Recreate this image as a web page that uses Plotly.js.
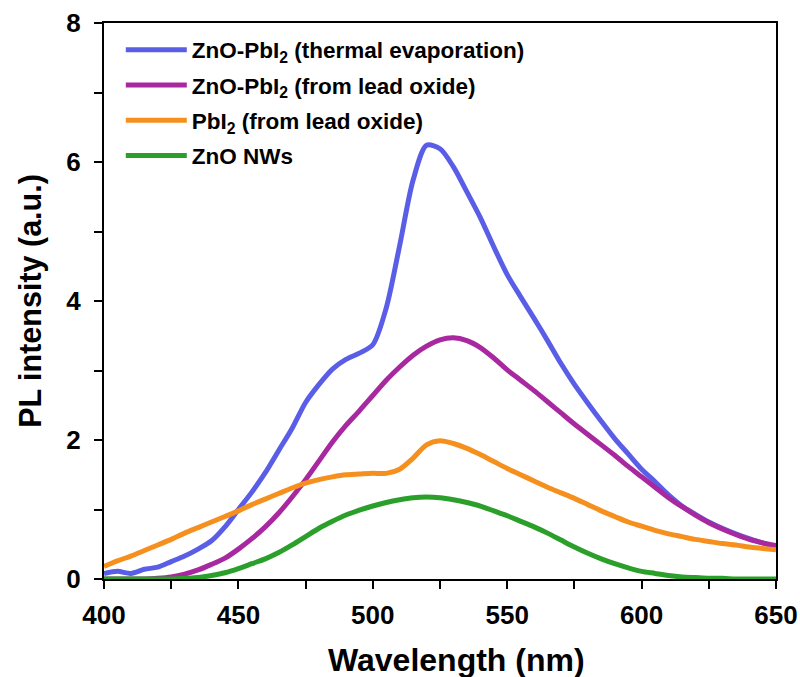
<!DOCTYPE html>
<html>
<head>
<meta charset="utf-8">
<script src="https://cdn.plot.ly/plotly-3.0.1.min.js"></script>
<style>
  html, body { margin: 0; padding: 0; background: #fff; }
  #chart { width: 800px; height: 677px; }
</style>
</head>
<body>
<div id="chart"></div>
<script>
// Wavelength grid (nm)
const wavelength = [400,405,410,415,420,425,430,435,440,445,450,455,460,465,470,475,480,485,490,495,
  500,505,510,515,520,525,530,535,540,545,550,555,560,565,570,575,580,585,590,595,
  600,605,610,615,620,625,630,635,640,645,650];

// ZnO-PbI2 (thermal evaporation)
const thermalEvap = [0.08,0.11,0.08,0.14,0.17,0.25,0.33,0.43,0.55,0.75,1.00,1.25,1.53,1.85,2.17,2.54,2.80,3.02,3.16,3.25,
  3.37,3.90,4.80,5.74,6.24,6.19,5.93,5.57,5.20,4.78,4.38,4.06,3.75,3.43,3.10,2.80,2.53,2.27,2.02,1.80,
  1.58,1.40,1.21,1.05,0.93,0.82,0.73,0.65,0.58,0.52,0.46];

// ZnO-PbI2 (from lead oxide)
const fromLeadOxide = [0.00,0.00,0.00,0.00,0.01,0.03,0.07,0.13,0.21,0.30,0.43,0.58,0.75,0.95,1.18,1.43,1.70,1.97,2.21,2.42,
  2.64,2.86,3.05,3.22,3.35,3.44,3.47,3.43,3.33,3.18,3.01,2.86,2.71,2.55,2.39,2.23,2.08,1.93,1.78,1.62,
  1.47,1.32,1.17,1.04,0.92,0.81,0.72,0.64,0.57,0.52,0.48];

// PbI2 (from lead oxide)
const pbi2 = [0.18,0.26,0.33,0.41,0.49,0.57,0.66,0.74,0.82,0.90,0.98,1.07,1.15,1.23,1.31,1.38,1.43,1.47,1.50,1.51,
  1.52,1.52,1.58,1.74,1.93,1.99,1.95,1.88,1.79,1.69,1.59,1.50,1.41,1.32,1.24,1.16,1.07,0.98,0.90,0.82,
  0.76,0.70,0.65,0.61,0.57,0.54,0.51,0.49,0.46,0.44,0.42];

// ZnO NWs
const znoNWs = [0.00,0.00,0.00,0.00,0.00,0.00,0.01,0.02,0.05,0.09,0.15,0.22,0.29,0.38,0.49,0.61,0.73,0.83,0.92,0.99,
  1.05,1.10,1.14,1.17,1.18,1.17,1.14,1.10,1.05,0.98,0.91,0.83,0.75,0.66,0.56,0.46,0.37,0.29,0.22,0.16,
  0.11,0.08,0.05,0.03,0.02,0.01,0.01,0.00,0.00,0.00,0.00];

const seriesNames = [
  "ZnO-PbI<sub>2</sub> (thermal evaporation)",
  "ZnO-PbI<sub>2</sub> (from lead oxide)",
  "PbI<sub>2</sub> (from lead oxide)",
  "ZnO NWs"
];
const seriesValues = [thermalEvap, fromLeadOxide, pbi2, znoNWs];
const seriesColors = ["#5a5ee6", "#a8289f", "#f5901e", "#2a9f2a"];

const xTitle = "Wavelength (nm)";
const yTitle = "PL intensity (a.u.)";

const traces = seriesValues.map((vals, i) => ({
  x: wavelength,
  y: vals,
  type: "scatter",
  mode: "lines",
  name: seriesNames[i],
  legendgroup: "g" + i,
  line: { color: seriesColors[i], width: 5, shape: "spline", smoothing: 0.8 }
}));

const fontFam = "Arial, 'Liberation Sans', sans-serif";

const layout = {
  width: 800,
  height: 677,
  margin: { l: 104, r: 24, t: 23, b: 98 },
  paper_bgcolor: "#fff",
  plot_bgcolor: "#fff",
  font: { family: fontFam, color: "#000" },
  showlegend: true,
  legend: {
    x: 0.025, y: 0.99, xanchor: "left", yanchor: "top",
    bgcolor: "rgba(0,0,0,0)",
    font: { family: fontFam, size: 22.5, color: "#000", weight: "bold" },
    traceorder: "grouped",
    tracegroupgap: 3,
    itemwidth: 61
  },
  annotations: [{
    text: xTitle,
    xref: "paper", yref: "paper",
    x: 0.524, y: -0.146,
    xanchor: "center", yanchor: "middle",
    showarrow: false,
    font: { family: fontFam, size: 32, color: "#000", weight: "bold" }
  }],
  xaxis: {
    range: [400, 650],
    tickvals: [400, 450, 500, 550, 600, 650],
    ticks: "outside", ticklen: 8, tickwidth: 2, tickcolor: "#000",
    minor: { dtick: 25, tick0: 400, ticks: "outside", ticklen: 8, tickwidth: 2, tickcolor: "#000" },
    showline: true, linecolor: "#000", linewidth: 2, mirror: true,
    showgrid: false, zeroline: false,
    ticklabelstandoff: 4,
    tickfont: { family: fontFam, size: 26, color: "#000", weight: "bold" },
    automargin: false
  },
  yaxis: {
    range: [0, 8],
    tickvals: [0, 2, 4, 6, 8],
    ticks: "outside", ticklen: 8, tickwidth: 2, tickcolor: "#000",
    minor: { dtick: 1, tick0: 0, ticks: "outside", ticklen: 8, tickwidth: 2, tickcolor: "#000" },
    showline: true, linecolor: "#000", linewidth: 2, mirror: true,
    showgrid: false, zeroline: false,
    ticklabelstandoff: 8,
    tickfont: { family: fontFam, size: 26, color: "#000", weight: "bold" },
    title: { text: yTitle, standoff: 16, font: { family: fontFam, size: 30.5, color: "#000", weight: "bold" } },
    automargin: false
  }
};

Plotly.newPlot("chart", traces, layout, { displayModeBar: false, staticPlot: true });
</script>
</body>
</html>
